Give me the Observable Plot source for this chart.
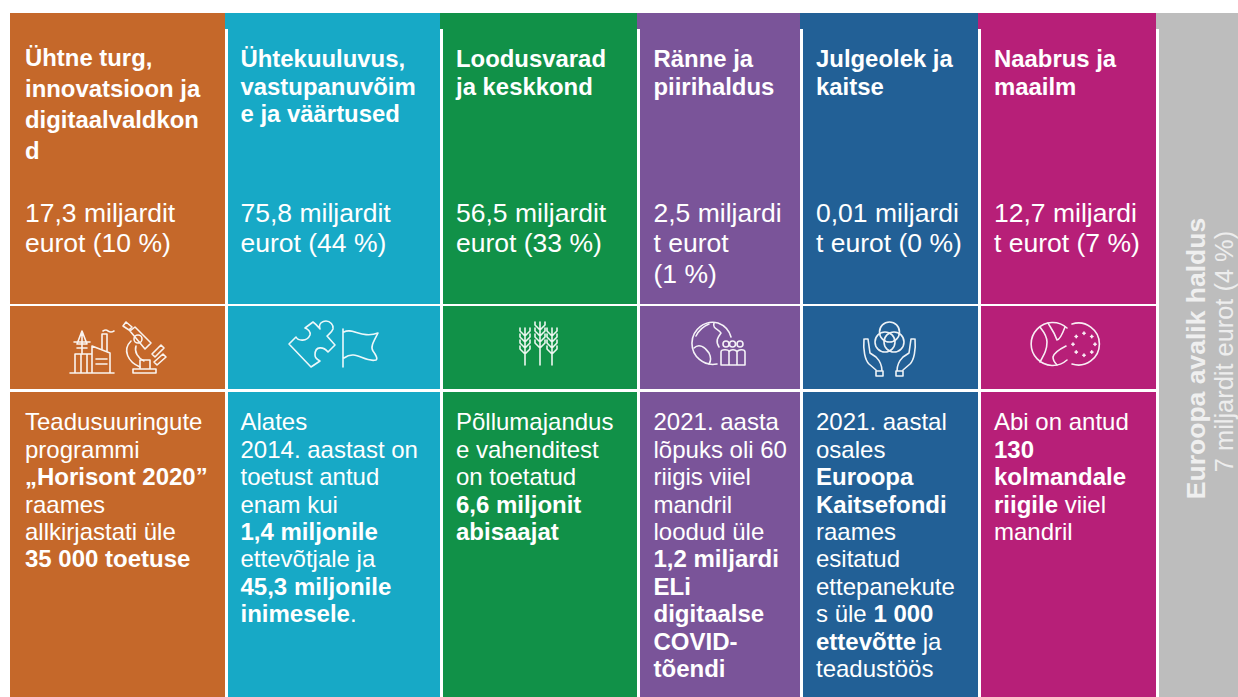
<!DOCTYPE html>
<html lang="et">
<head>
<meta charset="utf-8">
<script src="https://cdn.jsdelivr.net/npm/d3@7"></script>
<script src="https://cdn.jsdelivr.net/npm/@observablehq/plot@0.6"></script>
<style>
html,body{margin:0;padding:0;background:#fff}
svg{display:block}
</style>
</head>
<body>
<div id="chart"></div>
<script>
// ---------- content ----------
const colors = ["#C5682A", "#17A9C6", "#119148", "#7A5499", "#226096", "#B71F78"];
const headings = [
  ["Ühtne turg,", "innovatsioon ja", "digitaalvaldkon", "d"],
  ["Ühtekuuluvus,", "vastupanuvõim", "e ja väärtused"],
  ["Loodusvarad", "ja keskkond"],
  ["Ränne ja", "piirihaldus"],
  ["Julgeolek ja", "kaitse"],
  ["Naabrus ja", "maailm"]
];
const amounts = [
  ["17,3 miljardit", "eurot (10 %)"],
  ["75,8 miljardit", "eurot (44 %)"],
  ["56,5 miljardit", "eurot (33 %)"],
  ["2,5 miljardi", "t eurot", "(1 %)"],
  ["0,01 miljardi", "t eurot (0 %)"],
  ["12,7 miljardi", "t eurot (7 %)"]
];
const details = [
  ["Teadusuuringute", "programmi", "**„Horisont 2020”**", "raames", "allkirjastati üle", "**35 000 toetuse**"],
  ["Alates", "2014. aastast on", "toetust antud", "enam kui", "**1,4 miljonile**", "ettevõtjale ja", "**45,3 miljonile**", "**inimesele**."],
  ["Põllumajandus", "e vahenditest", "on toetatud", "**6,6 miljonit**", "**abisaajat**"],
  ["2021. aasta", "lõpuks oli 60", "riigis viiel", "mandril", "loodud üle", "**1,2 miljardi**", "**ELi**", "**digitaalse**", "**COVID-**", "**tõendi**"],
  ["2021. aastal", "osales", "**Euroopa**", "**Kaitsefondi**", "raames", "esitatud", "ettepanekute", "s üle **1 000**", "**ettevõtte** ja", "teadustöös"],
  ["Abi on antud", "**130**", "**kolmandale**", "**riigile** viiel", "mandril"]
];
const sideTitle = "Euroopa avalik haldus";
const sideAmount = "7 miljardit eurot (4 %)";
const sideColor = "#BDBDBD";

// ---------- page layout ----------
const W = 1238, H = 697;
const columnWidths = [215, 215, 197, 163, 178, 178];
const firstColumn = 10, gap = 3;
const colEnd = d3.cumsum(columnWidths).map(v => v + firstColumn);
const colStart = colEnd.map((_, i) => i ? colEnd[i - 1] + gap : firstColumn);
const textInset = [14.5, 12, 12.5, 13, 12.5, 12.5];
const topEdge = 13, band = 29;
const rows = [[band, 304], [306, 389], [392, H]];
const sideStart = colEnd[5] + gap;

const cells = [];
colors.forEach((fill, i) => {
  cells.push({x1: i ? colEnd[i - 1] : firstColumn, x2: colEnd[i], y1: topEdge, y2: band, fill});
  rows.forEach(([y1, y2]) => cells.push({x1: colStart[i], x2: colEnd[i], y1, y2, fill}));
});
cells.push({x1: colEnd[5], x2: W, y1: topEdge, y2: band, fill: sideColor});
cells.push({x1: sideStart, x2: W, y1: band, y2: H, fill: sideColor});

const lineTable = (blocks, y0, step) => blocks.flatMap((lines, c) =>
  lines.map((text, i) => ({
    x: colStart[c] + textInset[c],
    y: (Array.isArray(y0) ? y0[c] : y0) + i * (Array.isArray(step) ? step[c] : step),
    text
  })));

const headRows = lineTable(headings, [58, 59, 59, 59, 59, 59], [30.9, 27.4, 27.4, 27.4, 27.4, 27.4]);
const amountRows = lineTable(amounts, 213, 30.5);
const detailRows = lineTable(details, 422, 27.45);

// ---------- inline bold ----------
function boldRuns(index, scales, values, dimensions, context, next) {
  const g = next(index, scales, values, dimensions, context);
  d3.select(g).selectAll("text").each(function () {
    const t = d3.select(this), s = t.text();
    if (!s.includes("**")) return;
    t.text(null);
    s.split("**").forEach((part, k) => {
      if (part) t.append("tspan").attr("font-weight", k % 2 ? 700 : 400).text(part);
    });
  });
  return g;
}

// ---------- icons, drawn in local pixel units ----------
const circle = (cx, cy, r) => `M${cx - r},${cy}a${r},${r} 0 1 0 ${2 * r},0a${r},${r} 0 1 0 ${-2 * r},0`;
const sheaf = (x, t, b) => {
  let d = `M${x},${t}V${b}`;
  for (let k = 0; k < 4; k++) d += `M${x - 5},${t + k * 6}L${x - 5},${t + k * 6 + 3}L${x},${t + k * 6 + 8}L${x + 5},${t + k * 6 + 3}V${t + k * 6}`;
  return d;
};
const dots = (cx, cy, r) => d3.range(8).map(k => {
  const a = k * Math.PI / 4;
  const x = cx + r * Math.cos(a), y = cy + r * Math.sin(a);
  return `M${x - 1.2},${y}H${x + 1.2}M${x},${y - 1.2}V${y + 1.2}`;
}).join("");
const icons = [
  {c: 0, ox: 60, oy: 312, d: [
    "M10,61H54M15,61V42H32M15,42V61M21,42V61M27,42V61M32,61V34L50,41V61",
    "M36,47H47M36,52H47M42,37V22H47V39M43,19q3,-2 5,0q3,2 6,0",
    "M22,19L17,32H27ZM22,19V42M14,30H30M17,36H27",
    "M63,14L66,10L72,15L69,18ZM70,19L75,15L91,31L85,37ZM78,27m-4,0a4,4 0 1 0 8,0a4,4 0 1 0 -8,0",
    "M71,29C62,38 68,50 80,55M76,34C74,40 78,46 84,49",
    "M73,61H96V57H73ZM80,57V48H90V57",
    "M92,42L101,33L104,36L95,45ZM94,50L103,42L106,45L97,53Z"
  ]},
  {c: 1, ox: 280, oy: 315, d: [
    "M9,29L16,22C18,26 27,27 30,20C31,17 28,14 25,13L33,7C36,9 39,13 40,14C38,8 43,6 46,6C50,6 54,10 53,14C52,17 49,19 47,21L55,30L48,37C44,32 35,30 35,40C35,43 38,45 40,46L31,52Z",
    "M63,14V52M64,17C72,12 82,24 98,18C94,26 90,32 93,36C96,40 98,44 96,45C84,48 76,34 64,43"
  ]},
  {c: 2, ox: 510, oy: 315, d: [sheaf(15, 13, 50), sheaf(30, 7, 50), sheaf(42, 13, 50)]},
  {c: 3, ox: 685, oy: 315, d: [
    "M33,8A21,21 0 1 0 32,49M33,8A21,21 0 0 1 46,22",
    "M11,21C14,15 19,11 24,9M29,8C27,14 34,14 36,18C33,22 30,26 34,32",
    "M9,33C14,28 20,32 24,38C26,42 26,46 24,49",
    circle(41, 29, 3), circle(47.5, 29, 3), circle(55, 29, 3),
    "M36,50V37C36,34 44,34 44,37V50ZM44,37C45,34 51,34 52,37V50H44M52,37C53,34 60,34 60,37V50H52"
  ]},
  {c: 4, ox: 855, oy: 315, d: [
    circle(34.5, 17, 10), circle(30, 27, 10), circle(39, 27, 10),
    "M10,24L13,24L15,38L21,42C24,45 27,50 27,56M9,24C8,35 10,45 14,49L21,55M21,56H28V61H21Z",
    "M59,24L56,24L54,38L48,42C45,45 42,50 42,56M60,24C61,35 59,45 55,49L48,55M41,56H48V61H41Z"
  ]},
  {c: 5, ox: 1020, oy: 315, d: [
    "M47,13A21.5,21.5 0 1 0 47,45",
    "M20,12C23,16 27,20 27,27C27,34 25,38 20,47",
    "M28,8C30,12 34,16 37,25C39,25 42,20 45,12",
    "M46,31C42,33 34,37 33,42C33,45 35,48 37,50",
    "M52,9A21,21 0 1 1 52,49",
    dots(64, 29.3, 11)
  ]}
];

function iconMark(index, {x, y}) {
  const g = d3.create("svg:g")
    .attr("fill", "none").attr("stroke", "#fff")
    .attr("stroke-width", 1.6).attr("stroke-linejoin", "round")
    .attr("stroke-linecap", "round").attr("opacity", 0.92);
  for (const icon of icons) {
    g.append("g").attr("transform", `translate(${x(icon.ox)},${y(icon.oy)})`)
      .selectAll("path").data(icon.d).join("path").attr("d", d => d);
  }
  return g.node();
}

// ---------- chart ----------
const font = "'Liberation Sans', Arial, sans-serif";
const textOpts = {x: "x", y: "y", text: "text", textAnchor: "start", lineAnchor: "middle", fill: "#fff", fontFamily: font};

const chart = Plot.plot({
  width: W, height: H,
  marginTop: 0, marginRight: 0, marginBottom: 0, marginLeft: 0,
  x: {domain: [0, W], range: [0, W], axis: null},
  y: {domain: [0, H], range: [0, H], axis: null},
  style: {background: "#fff", fontFamily: font},
  marks: [
    Plot.rect(cells, {x1: "x1", x2: "x2", y1: "y1", y2: "y2", fill: "fill"}),
    iconMark,
    Plot.text(headRows, {...textOpts, fontSize: 23.9, fontWeight: 700}),
    Plot.text(amountRows, {...textOpts, fontSize: 26.5}),
    Plot.text(detailRows, {...textOpts, fontSize: 24, render: boldRuns}),
    Plot.text([sideTitle], {x: () => 1196, y: () => 358, text: d => d, rotate: -90, fontSize: 26.5, fontWeight: 700, fill: "#EFEFEF", fontFamily: font, lineAnchor: "middle", textAnchor: "middle"}),
    Plot.text([sideAmount], {x: () => 1224.5, y: () => 351, text: d => d, rotate: -90, fontSize: 25.4, fill: "#EDEDED", fontFamily: font, lineAnchor: "middle", textAnchor: "middle"})
  ]
});
document.getElementById("chart").append(chart);
</script>
</body>
</html>
